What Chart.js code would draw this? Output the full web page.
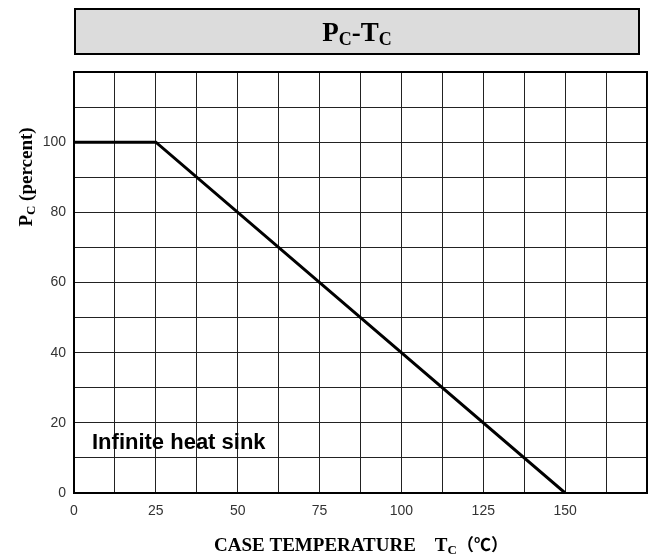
<!DOCTYPE html>
<html>
<head>
<meta charset="utf-8">
<script src="https://cdn.jsdelivr.net/npm/chart.js@4/dist/chart.umd.min.js"></script>
<style>
  body { margin: 0; background: #fff; }
</style>
</head>
<body>
<canvas id="myChart" width="657" height="559"></canvas>
<script>
// derating curve
const caseTemp = [0, 25, 150];
const powerPct = [100, 100, 0];
const xLabels = [0, 25, 50, 75, 100, 125, 150];
const yLabels = [0, 20, 40, 60, 80, 100];

const serif = '"Liberation Serif", "Times New Roman", serif';
const sans = '"Liberation Sans", Arial, sans-serif';

// draw text made of pieces, some of them subscript
function drawParts(ctx, parts, cx, baseline) {
  let total = 0;
  parts.forEach(p => {
    ctx.font = p.font;
    p.w = ctx.measureText(p.t).width;
    total += p.w;
  });
  let x = cx - total / 2;
  ctx.textAlign = 'left';
  ctx.textBaseline = 'alphabetic';
  parts.forEach(p => {
    ctx.font = p.font;
    ctx.fillText(p.t, x, baseline + (p.dy || 0));
    x += p.w;
  });
}

const decor = {
  id: 'decor',
  afterDraw(chart) {
    const ctx = chart.ctx;
    const a = chart.chartArea;
    ctx.save();

    // title box
    ctx.fillStyle = '#dcdcdc';
    ctx.fillRect(75, 9, 564, 45);
    ctx.strokeStyle = '#000';
    ctx.lineWidth = 2;
    ctx.strokeRect(75, 9, 564, 45);
    ctx.fillStyle = '#000';
    drawParts(ctx, [
      { t: 'P', font: 'bold 27px ' + serif },
      { t: 'C', font: 'bold 18px ' + serif, dy: 4 },
      { t: '-T', font: 'bold 27px ' + serif },
      { t: 'C', font: 'bold 18px ' + serif, dy: 4 }
    ], 357, 41);

    // plot frame
    ctx.lineWidth = 2;
    ctx.strokeRect(a.left, a.top, a.right - a.left, a.bottom - a.top);

    // y title
    ctx.save();
    ctx.translate(32, 177);
    ctx.rotate(-Math.PI / 2);
    drawParts(ctx, [
      { t: 'P', font: 'bold 19px ' + serif },
      { t: 'C', font: 'bold 13px ' + serif, dy: 3 },
      { t: ' (percent)', font: 'bold 19px ' + serif }
    ], 0, 0);
    ctx.restore();

    // x title
    drawParts(ctx, [
      { t: 'CASE TEMPERATURE    T', font: 'bold 19px ' + serif },
      { t: 'C', font: 'bold 13px ' + serif, dy: 3 },
      { t: '（℃）', font: 'bold 17px "Noto Sans CJK SC"' }
    ], 361, 551);

    // note
    ctx.font = 'bold 22px ' + sans;
    ctx.textAlign = 'left';
    ctx.fillText('Infinite heat sink', 92, 449);

    ctx.restore();
  }
};

const config = {
  type: 'scatter',
  data: {
    datasets: [{
      data: caseTemp.map((t, i) => ({ x: t, y: powerPct[i] })),
      showLine: true,
      borderColor: '#000',
      borderWidth: 3,
      pointRadius: 0,
      fill: false
    }]
  },
  options: {
    responsive: false,
    animation: false,
    layout: { padding: { top: 72, right: 8, left: 0, bottom: 0 } },
    plugins: { legend: { display: false }, tooltip: { enabled: false } },
    scales: {
      x: {
        type: 'linear',
        min: 0,
        max: 175,
        afterFit: s => { s.height = 66; },
        grid: { color: '#222', lineWidth: 1, drawTicks: false },
        border: { color: '#000', width: 2 },
        ticks: {
          stepSize: 12.5,
          autoSkip: false,
          maxRotation: 0,
          padding: 10,
          color: '#333',
          font: { family: sans, size: 14 },
          callback: v => xLabels.includes(v) ? v : ''
        }
      },
      y: {
        min: 0,
        max: 120,
        afterFit: s => { s.width = 74; },
        grid: { color: '#222', lineWidth: 1, drawTicks: false },
        border: { color: '#000', width: 2 },
        ticks: {
          stepSize: 10,
          autoSkip: false,
          padding: 8,
          color: '#333',
          font: { family: sans, size: 14 },
          callback: v => yLabels.includes(v) ? v : ''
        }
      }
    }
  },
  plugins: [decor]
};

const chart = new Chart(document.getElementById('myChart'), config);
</script>
</body>
</html>
